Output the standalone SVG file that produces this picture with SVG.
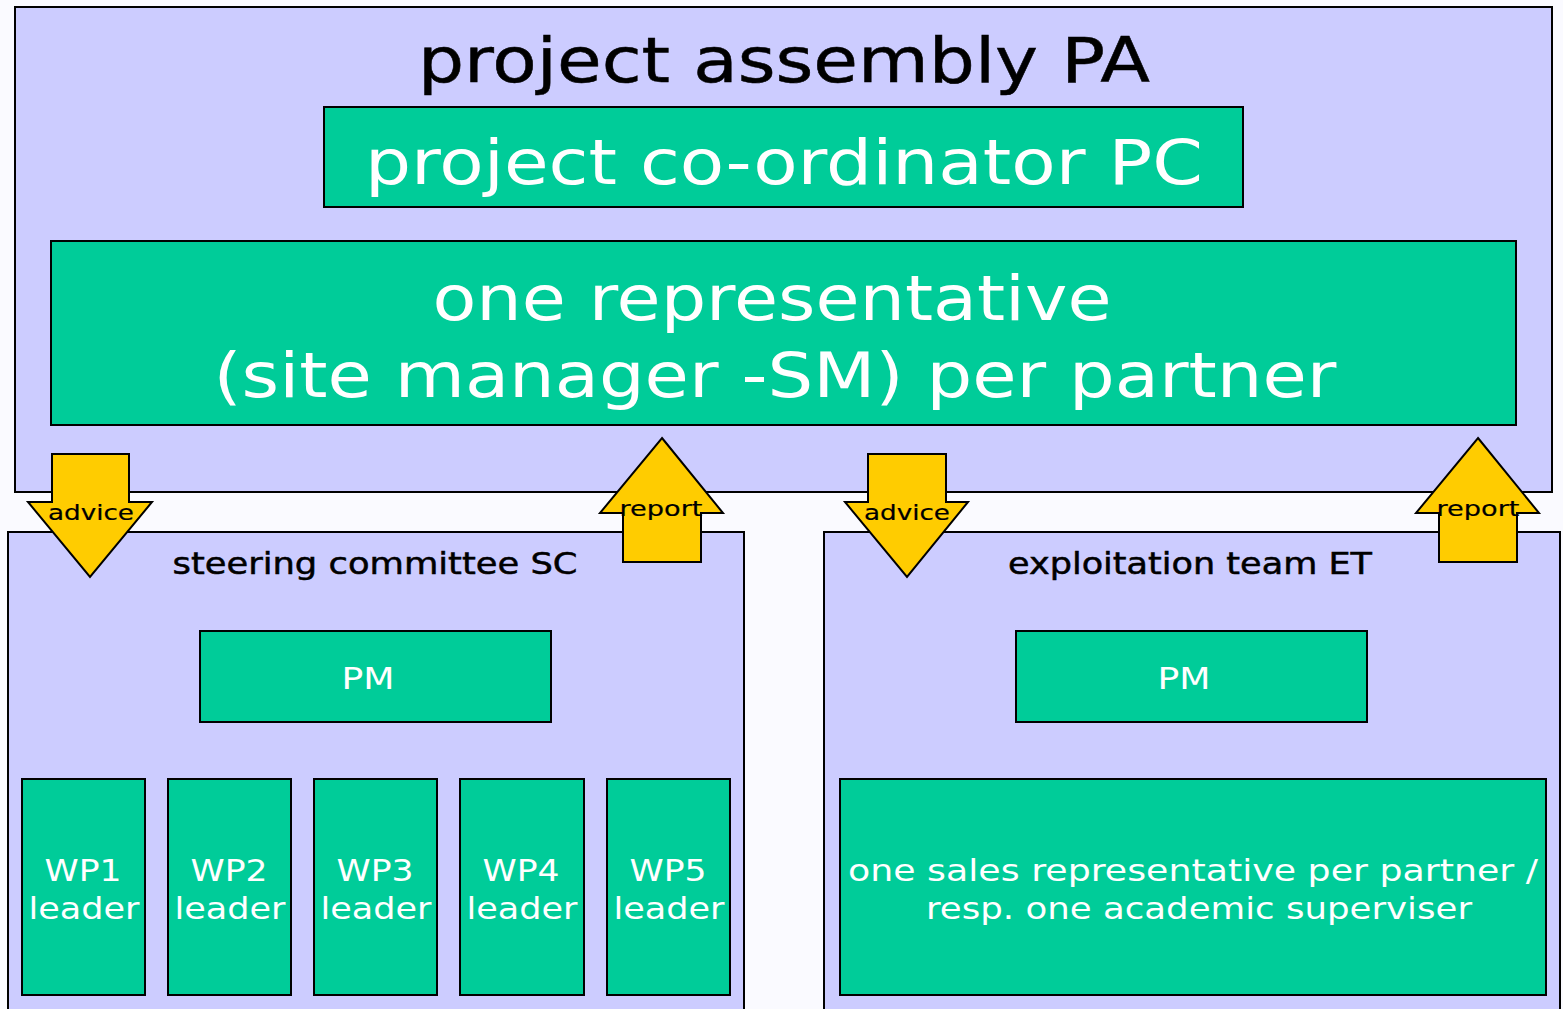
<svg xmlns="http://www.w3.org/2000/svg" width="1563" height="1009" viewBox="0 0 1563 1009">
<style>
.grp{fill:#ccccff;stroke:#000;stroke-width:2}
.box{fill:#00cc99;stroke:#000;stroke-width:2}
.arr{fill:#ffcc00;stroke:#000;stroke-width:2;stroke-linejoin:miter}
text{font-family:"DejaVu Sans","Verdana",sans-serif;text-anchor:middle}
.w{fill:#fff}
.k{fill:#000;stroke:#000;stroke-width:0.5}
.lbl{fill:#000;stroke:#000;stroke-width:0.2}
</style>
<rect width="1563" height="1009" fill="#fafaff"/>
<g id="pa">
<rect class="grp" x="15" y="7" width="1537" height="485"/>
<text class="k" x="784" y="82" font-size="62" stroke-width="1.3" textLength="732" lengthAdjust="spacingAndGlyphs">project assembly PA</text>
</g>
<g id="pc">
<rect class="box" x="324" y="107" width="919" height="100"/>
<text class="w" x="784" y="184" font-size="62" textLength="838" lengthAdjust="spacingAndGlyphs">project co-ordinator PC</text>
</g>
<g id="rep">
<rect class="box" x="51" y="241" width="1465" height="184"/>
<text class="w" x="772" y="320" font-size="62" textLength="679" lengthAdjust="spacingAndGlyphs">one representative</text>
<text class="w" x="775" y="397" font-size="62" textLength="1123" lengthAdjust="spacingAndGlyphs">(site manager -SM) per partner</text>
</g>
<g id="sc">
<rect class="grp" x="8" y="532" width="736" height="490"/>
<text class="k" x="375" y="574" font-size="30" textLength="405" lengthAdjust="spacingAndGlyphs">steering committee SC</text>
</g>
<g id="et">
<rect class="grp" x="824" y="532" width="736" height="490"/>
<text class="k" x="1190" y="574" font-size="30" textLength="364" lengthAdjust="spacingAndGlyphs">exploitation team ET</text>
</g>
<g id="pm1">
<rect class="box" x="200" y="631" width="351" height="91"/>
<text class="w" x="368" y="689" font-size="30" textLength="53" lengthAdjust="spacingAndGlyphs">PM</text>
</g>
<g id="pm2">
<rect class="box" x="1016" y="631" width="351" height="91"/>
<text class="w" x="1184" y="689" font-size="30" textLength="53" lengthAdjust="spacingAndGlyphs">PM</text>
</g>
<g id="wp1">
<rect class="box" x="22" y="779" width="123" height="216"/>
<text class="w" x="83" y="881" font-size="30" textLength="77" lengthAdjust="spacingAndGlyphs">WP1</text>
<text class="w" x="84" y="919" font-size="30" textLength="111" lengthAdjust="spacingAndGlyphs">leader</text>
</g>
<g id="wp2">
<rect class="box" x="168" y="779" width="123" height="216"/>
<text class="w" x="229" y="881" font-size="30" textLength="77" lengthAdjust="spacingAndGlyphs">WP2</text>
<text class="w" x="230" y="919" font-size="30" textLength="111" lengthAdjust="spacingAndGlyphs">leader</text>
</g>
<g id="wp3">
<rect class="box" x="314" y="779" width="123" height="216"/>
<text class="w" x="375" y="881" font-size="30" textLength="77" lengthAdjust="spacingAndGlyphs">WP3</text>
<text class="w" x="376" y="919" font-size="30" textLength="111" lengthAdjust="spacingAndGlyphs">leader</text>
</g>
<g id="wp4">
<rect class="box" x="460" y="779" width="124" height="216"/>
<text class="w" x="521" y="881" font-size="30" textLength="77" lengthAdjust="spacingAndGlyphs">WP4</text>
<text class="w" x="522" y="919" font-size="30" textLength="111" lengthAdjust="spacingAndGlyphs">leader</text>
</g>
<g id="wp5">
<rect class="box" x="607" y="779" width="123" height="216"/>
<text class="w" x="668" y="881" font-size="30" textLength="77" lengthAdjust="spacingAndGlyphs">WP5</text>
<text class="w" x="669" y="919" font-size="30" textLength="111" lengthAdjust="spacingAndGlyphs">leader</text>
</g>
<g id="sales">
<rect class="box" x="840" y="779" width="706" height="216"/>
<text class="w" x="1193" y="881" font-size="30" textLength="690" lengthAdjust="spacingAndGlyphs">one sales representative per partner /</text>
<text class="w" x="1199" y="919" font-size="30" textLength="546" lengthAdjust="spacingAndGlyphs">resp. one academic superviser</text>
</g>
<g id="connectors">
<g id="advice1">
<polygon class="arr" points="52,454 129,454 129,502 152,502 90,577 28,502 52,502"/>
<text class="lbl" x="91" y="520" font-size="22" textLength="86" lengthAdjust="spacingAndGlyphs">advice</text>
</g>
<g id="report1">
<polygon class="arr" points="662,438 723,513 701,513 701,562 623,562 623,513 600,513"/>
<text class="lbl" x="661" y="516" font-size="22" textLength="83" lengthAdjust="spacingAndGlyphs">report</text>
</g>
<g id="advice2">
<polygon class="arr" points="868,454 946,454 946,502 968,502 907,577 845,502 868,502"/>
<text class="lbl" x="907" y="520" font-size="22" textLength="86" lengthAdjust="spacingAndGlyphs">advice</text>
</g>
<g id="report2">
<polygon class="arr" points="1478,438 1539,513 1517,513 1517,562 1439,562 1439,513 1416,513"/>
<text class="lbl" x="1478" y="516" font-size="22" textLength="83" lengthAdjust="spacingAndGlyphs">report</text>
</g>
</g>
</svg>
